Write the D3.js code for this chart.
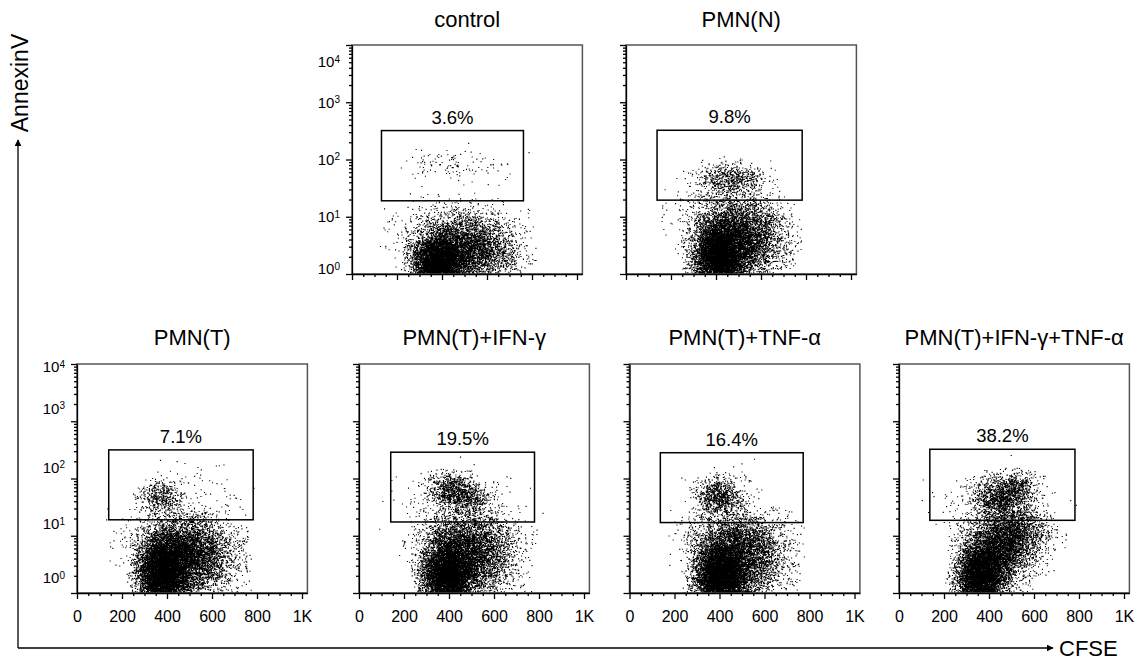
<!DOCTYPE html>
<html>
<head>
<meta charset="utf-8">
<script src="https://cdn.jsdelivr.net/npm/d3@7"></script>
<style>
  body { margin: 0; background: #fff; }
  text { font-family: Arial, "Liberation Sans", sans-serif; fill: #000; }
</style>
</head>
<body>
<div id="chart"></div>
<script>
// ---- data ----
var panelTitles = ["control", "PMN(N)", "PMN(T)", "PMN(T)+IFN-\u03b3", "PMN(T)+TNF-\u03b1", "PMN(T)+IFN-\u03b3+TNF-\u03b1"];
var gatePercent = [3.6, 9.8, 7.1, 19.5, 16.4, 38.2];
// gate limits: CFSE (linear) and AnnexinV (log)
var gateCFSE = [[131, 762], [138, 783], [141, 783], [141, 780], [137, 772], [137, 782]];
var gateAnnexin = [[19, 320], [19.5, 324], [19, 316], [17.4, 288], [17, 282], [18.6, 324]];
var xTicks = [0, 200, 400, 600, 800, 1000];
var xTickLabels = ["0", "200", "400", "600", "800", "1K"];
var yTicks = [1, 10, 100, 1000, 10000];
var yTickExp = ["0", "1", "2", "3", "4"];
// estimated number of visible dots per cloud
var liveCounts = [10000, 11000, 12000, 11000, 11000, 10000];
var apoCounts = [120, 750, 550, 1400, 1000, 1800];
// cloud summaries: [CFSE centre, log10 AnnexinV centre, CFSE sd, log sd, correlation, share]
var liveClouds = [
  [[380, 0.20, 55, 0.25, 0, 0.55], [530, 0.40, 100, 0.30, 0, 0.35], [440, 0.65, 115, 0.32, 0, 0.10]],
  [[410, 0.30, 55, 0.30, 0, 0.55], [520, 0.60, 90, 0.33, 0, 0.35], [450, 0.90, 105, 0.32, 0, 0.10]],
  [[380, 0.35, 55, 0.33, 0, 0.55], [500, 0.60, 95, 0.33, 0, 0.35], [460, 0.90, 115, 0.28, 0, 0.10]],
  [[390, 0.30, 55, 0.30, 0, 0.55], [500, 0.55, 95, 0.30, 0, 0.30], [480, 1.00, 110, 0.24, 0, 0.15]],
  [[400, 0.30, 55, 0.30, 0, 0.55], [500, 0.55, 95, 0.32, 0, 0.33], [470, 1.00, 105, 0.24, 0, 0.12]],
  [[360, 0.30, 50, 0.30, 0, 0.50], [450, 0.70, 85, 0.38, 0.4, 0.38], [480, 1.05, 95, 0.20, 0, 0.12]]
];
var apoClouds = [
  [[370, 1.95, 70, 0.13, 0, 0.55], [560, 1.90, 115, 0.15, 0, 0.45]],
  [[465, 1.65, 75, 0.14, 0, 0.85], [420, 1.45, 105, 0.25, 0, 0.15]],
  [[370, 1.65, 50, 0.16, 0, 0.85], [500, 1.80, 125, 0.25, 0, 0.15]],
  [[440, 1.75, 70, 0.17, -0.35, 0.85], [450, 1.60, 135, 0.30, 0, 0.15]],
  [[395, 1.70, 50, 0.16, 0, 0.85], [420, 1.55, 95, 0.30, 0, 0.15]],
  [[455, 1.68, 65, 0.18, 0, 0.70], [530, 1.88, 45, 0.11, 0, 0.15], [430, 1.60, 125, 0.30, 0, 0.15]]
];

// ---- layout ----
var W = 1139, H = 662;
var plotW = 230.4, plotH = 229;
var rows = [
  { top: 45, titleY: 27, labelShift: [-5, 0, 0, 0, 17] },
  { top: 364, titleY: 345, labelShift: [-15, -12, -11, -13, 3] }
];
var panelPos = [[0, 352], [0, 626], [1, 77], [1, 359], [1, 629.5], [1, 899]];
var showYLabels = [true, false, true, false, false, false];
var showXLabels = [false, false, true, true, true, true];

var svg = d3.select("#chart").append("svg")
  .attr("width", W).attr("height", H);

var defs = svg.append("defs");
defs.append("marker").attr("id", "arrow")
  .attr("viewBox", "0 0 10 10").attr("refX", 9).attr("refY", 5)
  .attr("markerWidth", 7).attr("markerHeight", 7)
  .attr("markerUnits", "userSpaceOnUse")
  .attr("orient", "auto")
  .append("path").attr("d", "M0,0L10,5L0,10z").attr("fill", "#000");

var x = d3.scaleLinear().domain([0, 1024]).range([0, plotW]);
var y = d3.scaleLog().domain([1, 10000]).range([plotH, 0]);

var minorX = d3.range(0, 1001, 50).filter(function (v) { return v % 200 != 0; });
var minorY = [];
[1, 10, 100, 1000].forEach(function (d) {
  for (var k = 2; k <= 9; k++) minorY.push(d * k);
});

var lcg = d3.randomLcg(0.4242);
var normal = d3.randomNormal.source(lcg)(0, 1);
// tails of the clouds stop at about 3 sd in the figure
function zval() {
  var z = normal();
  while (Math.abs(z) > 2.9) z = normal();
  return z;
}

function sampleCloud(comps, count) {
  var pts = [];
  comps.forEach(function (c) {
    var n = Math.round(c[5] * count);
    var r = c[4], s = Math.sqrt(1 - r * r);
    for (var i = 0; i < n; i++) {
      var z1 = zval(), z2 = zval();
      pts.push([c[0] + c[2] * z1, c[1] + c[3] * (r * z1 + s * z2)]);
    }
  });
  return pts;
}

panelTitles.forEach(function (title, i) {
  var row = rows[panelPos[i][0]];
  var g = svg.append("g")
    .attr("transform", "translate(" + panelPos[i][1] + "," + row.top + ")");

  // title
  g.append("text")
    .attr("x", plotW / 2).attr("y", row.titleY - row.top)
    .attr("text-anchor", "middle")
    .style("font-size", "22px")
    .text(title);

  // events
  var pts = sampleCloud(liveClouds[i], liveCounts[i]).concat(sampleCloud(apoClouds[i], apoCounts[i]));
  var d = "";
  pts.forEach(function (p) {
    if (p[1] < 0 || p[1] > 4 || p[0] < 0 || p[0] > 1024) return;
    var px = x(p[0]), py = y(Math.pow(10, p[1]));
    d += "M" + px.toFixed(1) + "," + py.toFixed(1) + "h1.1v1.1h-1.1z";
  });
  g.append("path").attr("d", d).attr("fill", "#000");

  // frame
  g.append("rect")
    .attr("width", plotW).attr("height", plotH)
    .attr("fill", "none").attr("stroke", "#555").attr("stroke-width", 1.5);

  // gate
  g.append("rect")
    .attr("x", x(gateCFSE[i][0]))
    .attr("y", y(gateAnnexin[i][1]))
    .attr("width", x(gateCFSE[i][1]) - x(gateCFSE[i][0]))
    .attr("height", y(gateAnnexin[i][0]) - y(gateAnnexin[i][1]))
    .attr("fill", "none").attr("stroke", "#000").attr("stroke-width", 1.5);

  g.append("text")
    .attr("x", x((gateCFSE[i][0] + gateCFSE[i][1]) / 2))
    .attr("y", y(gateAnnexin[i][1]) - 7)
    .attr("text-anchor", "middle")
    .style("font-size", "18.5px")
    .text(gatePercent[i].toFixed(1) + "%");

  // x axis
  var xa = g.append("g").attr("transform", "translate(0," + plotH + ")");
  xa.call(d3.axisBottom(x).tickValues(xTicks).tickSize(6).tickSizeOuter(0).tickPadding(12)
    .tickFormat(function (v, k) { return showXLabels[i] ? xTickLabels[k] : ""; }));
  xa.append("g").call(d3.axisBottom(x).tickValues(minorX).tickSize(3).tickSizeOuter(0).tickFormat(""))
    .select(".domain").remove();
  xa.selectAll("text").style("font-size", "16px").style("font-family", "Arial, 'Liberation Sans', sans-serif");

  // y axis
  var ya = g.append("g");
  ya.call(d3.axisLeft(y).tickValues(yTicks).tickSize(6).tickSizeOuter(0).tickFormat(""));
  ya.append("g").call(d3.axisLeft(y).tickValues(minorY).tickSize(3).tickSizeOuter(0).tickFormat(""))
    .select(".domain").remove();
  g.selectAll(".domain, .tick line").attr("stroke", "#000").attr("stroke-width", 1.3);

  if (showYLabels[i]) {
    yTicks.forEach(function (v, k) {
      var t = g.append("text")
        .attr("x", -12)
        .attr("y", y(v) + row.labelShift[k])
        .attr("dy", "0.35em")
        .attr("text-anchor", "end")
        .style("font-size", "15px");
      t.append("tspan").text("10");
      t.append("tspan").attr("dy", "-0.45em").style("font-size", "10px").text(yTickExp[k]);
    });
  }
});

// axis arrows
svg.append("path")
  .attr("d", "M18,648V140")
  .attr("stroke", "#000").attr("stroke-width", 1.3).attr("fill", "none")
  .attr("marker-end", "url(#arrow)");
svg.append("path")
  .attr("d", "M18,648H1053")
  .attr("stroke", "#000").attr("stroke-width", 1.3).attr("fill", "none")
  .attr("marker-end", "url(#arrow)");

svg.append("text")
  .attr("transform", "translate(28,83) rotate(-90)")
  .attr("text-anchor", "middle")
  .style("font-size", "23px")
  .text("AnnexinV");
svg.append("text")
  .attr("x", 1059).attr("y", 656)
  .style("font-size", "22px")
  .text("CFSE");
</script>
</body>
</html>
